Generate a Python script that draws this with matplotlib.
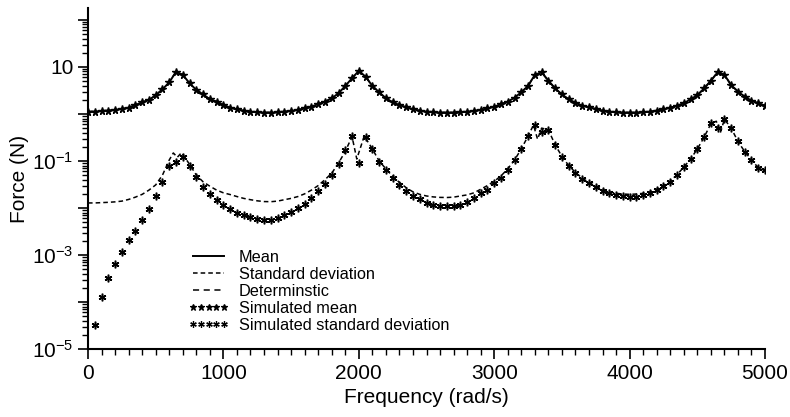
import matplotlib.pyplot as plt
from matplotlib.ticker import LogLocator, MultipleLocator, NullFormatter

plt.rcParams['font.family'] = ['Liberation Sans', 'DejaVu Sans']
plt.rcParams['mathtext.default'] = 'regular'

# frequency grid of the simulated points (rad/s)
freq = list(range(0, 5001, 50))

# mean force (N), every 50 rad/s
mean_force = [
    1.12, 1.12, 1.16, 1.18, 1.22, 1.28, 1.36, 1.55, 1.77, 1.99,
    2.5, 3.35, 4.7, 7.9, 6.8, 4.5, 3.25, 2.6, 2.05, 1.83,
    1.55, 1.36, 1.26, 1.18, 1.12, 1.08, 1.07, 1.07, 1.08, 1.12,
    1.16, 1.22, 1.31, 1.43, 1.63, 1.83, 2.15, 2.75, 3.95, 5.75,
    8.3, 6.2, 3.95, 2.9, 2.15, 1.77, 1.55, 1.39, 1.26, 1.18,
    1.12, 1.08, 1.07, 1.07, 1.07, 1.08, 1.12, 1.16, 1.22, 1.31,
    1.43, 1.61, 1.83, 2.22, 2.9, 3.95, 6.8, 7.7, 5.1, 3.5,
    2.6, 2.05, 1.74, 1.50, 1.39, 1.28, 1.18, 1.12, 1.08, 1.07,
    1.07, 1.07, 1.08, 1.12, 1.18, 1.26, 1.36, 1.50, 1.69, 2.05,
    2.5, 3.5, 5.1, 7.7, 6.8, 4.1, 3.0, 2.33, 1.92, 1.69,
    1.50,
]

# deterministic response lies on top of the mean
deterministic = mean_force

# simulated mean (Monte Carlo) - same as the mean within the print
sim_mean = mean_force

# analytical standard deviation, extra points around the resonances
std_freq = [
    0, 50, 100, 150, 200, 250, 300, 350, 400, 450, 500, 550, 600, 630, 660, 690,
    750, 800, 850, 900, 950, 1000, 1050, 1100, 1150, 1200, 1250, 1300, 1350, 1400,
    1450, 1500, 1550, 1600, 1650, 1700, 1750, 1800, 1850, 1900, 1950, 1985, 2040,
    2100, 2150, 2200, 2250, 2300, 2350, 2400, 2450, 2500, 2550, 2600, 2650, 2700,
    2750, 2800, 2850, 2900, 2950, 3000, 3050, 3100, 3150, 3200, 3250, 3290, 3320,
    3350, 3400, 3450, 3500, 3550, 3600, 3650, 3700, 3750, 3800, 3850, 3900, 3950,
    4000, 4050, 4100, 4150, 4200, 4250, 4300, 4350, 4400, 4450, 4500, 4550, 4600,
    4640, 4670, 4700, 4750, 4800, 4850, 4900, 4950, 5000,
]
std_force = [
    0.0128, 0.0128, 0.013, 0.0132, 0.0135, 0.014, 0.0152, 0.017, 0.0195, 0.024,
    0.031, 0.05, 0.105, 0.148, 0.12, 0.15,
    0.085, 0.05, 0.036, 0.029, 0.024, 0.021, 0.0193, 0.0175, 0.016, 0.015,
    0.0142, 0.0137, 0.0136, 0.014,
    0.015, 0.016, 0.0175, 0.02, 0.024, 0.03, 0.04, 0.055, 0.09, 0.16, 0.33, 0.11, 0.34,
    0.18, 0.10, 0.068, 0.047, 0.035, 0.027, 0.022, 0.0195, 0.018, 0.0172, 0.0168,
    0.0167, 0.017,
    0.018, 0.019, 0.021, 0.025, 0.03, 0.037, 0.048, 0.068, 0.105, 0.18, 0.34, 0.58,
    0.29,
    0.5, 0.46, 0.22, 0.125, 0.08, 0.057, 0.043, 0.035, 0.029, 0.025, 0.022, 0.0205,
    0.0198,
    0.0195, 0.0198, 0.0205, 0.022, 0.025, 0.03, 0.037, 0.051, 0.074, 0.11, 0.18,
    0.32, 0.62,
    0.7, 0.4, 0.77, 0.5, 0.26, 0.158, 0.105, 0.072, 0.062,
]

# simulated standard deviation, 50 .. 5000 rad/s
sim_std_freq = list(range(50, 5001, 50))
sim_std = [
    3.2e-5, 1.3e-4, 3.2e-4, 6.5e-4, 1.15e-3, 2.1e-3, 3.3e-3, 5.6e-3, 9.5e-3, 0.018,
    0.036, 0.078, 0.097, 0.12, 0.078, 0.046, 0.028, 0.0195, 0.0148, 0.0116,
    0.0094, 0.0079, 0.0071, 0.0063, 0.0057, 0.0056, 0.0056, 0.006, 0.0071, 0.0083,
    0.0098, 0.0122, 0.016, 0.023, 0.032, 0.05, 0.086, 0.171, 0.34, 0.089,
    0.33, 0.177, 0.097, 0.064, 0.043, 0.031, 0.023, 0.018, 0.0153, 0.013,
    0.0116, 0.0111, 0.0108, 0.0108, 0.0116, 0.0136, 0.016, 0.0206, 0.024, 0.0336,
    0.043, 0.064, 0.105, 0.177, 0.34, 0.58, 0.42, 0.457, 0.219, 0.123,
    0.078, 0.055, 0.041, 0.034, 0.0275, 0.023, 0.0206, 0.0189, 0.018, 0.0175,
    0.0175, 0.019, 0.0206, 0.024, 0.0294, 0.036, 0.05, 0.073, 0.109, 0.177,
    0.32, 0.65, 0.5, 0.77, 0.5, 0.26, 0.158, 0.105, 0.07, 0.063,
]

fig = plt.figure(figsize=(7.9, 4.17), dpi=100)
ax = fig.add_axes([0.1114, 0.163, 0.857, 0.818])

ax.plot(freq, mean_force, color='black', lw=1.4, label='Mean')
ax.plot(std_freq, std_force, color='black', lw=1.1, ls=(0, (3, 2)),
        label='Standard deviation')
ax.plot(freq, deterministic, color='black', lw=1.1, ls=(0, (4, 3)),
        label='Determinstic')
ax.plot(freq, sim_mean, ls='none', marker='*', ms=5.5, color='black',
        label='Simulated mean')
ax.plot(sim_std_freq, sim_std, ls='none', marker=(6, 2, 0), ms=5.5, mew=1.1,
        color='black', label='Simulated standard deviation')

ax.set_yscale('log')
ax.set_xlim(0, 5000)
ax.set_ylim(1e-5, 180)

ax.set_yticks([1e-5, 1e-4, 1e-3, 1e-2, 1e-1, 1, 10, 100])
ax.set_yticklabels(['$10^{-5}$', '', '$10^{-3}$', '', '$10^{-1}$', '', '10', ''])
ax.yaxis.set_minor_locator(LogLocator(base=10, subs=range(2, 10), numticks=20))
ax.yaxis.set_minor_formatter(NullFormatter())
ax.xaxis.set_major_locator(MultipleLocator(1000))
ax.xaxis.set_minor_locator(MultipleLocator(100))

ax.tick_params(which='major', direction='out', length=7, width=1.2, labelsize=15)
ax.tick_params(which='minor', direction='out', length=4, width=1.0)

for side in ['top', 'right']:
    ax.spines[side].set_visible(False)
for side in ['left', 'bottom']:
    ax.spines[side].set_linewidth(1.5)

ax.set_xlabel('Frequency (rad/s)', fontsize=15, labelpad=4)
ax.set_ylabel('Force (N)', fontsize=15, labelpad=2)

leg = ax.legend(loc='upper left', bbox_to_anchor=(0.148, 0.29), frameon=False,
                fontsize=11.7, numpoints=5, markerscale=0.85, handlelength=2.5,
                handletextpad=0.6, labelspacing=0.12, borderpad=0, borderaxespad=0)
for h in leg.legend_handles[3:]:
    h.set_markeredgewidth(0.9)

fig.savefig('out.png', dpi=100)
